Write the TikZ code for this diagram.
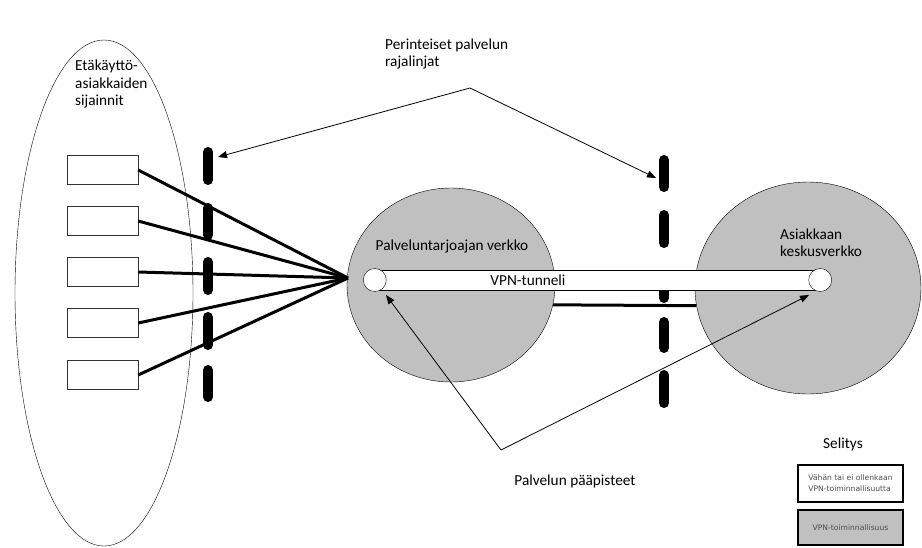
\documentclass[tikz,border=0pt]{standalone}
\usepackage{fontspec}
\setmainfont{Carlito}
\newfontfamily\pienifont{DejaVu Sans}
\usetikzlibrary{arrows.meta, shapes, positioning}
\definecolor{verkko}{RGB}{192,192,192}

\begin{document}
\begin{tikzpicture}[x=1pt, y=-1pt, font=\fontsize{15.3}{17.5}\selectfont,
    teksti/.style={inner sep=0pt, align=left},
    laatikko/.style={draw=black!80, fill=white, minimum width=71pt, minimum height=29pt, inner sep=0pt},
    yhteys/.style={line width=3pt},
    raja/.style={line width=10pt, line cap=round},
    nuoli/.style={-{Triangle[length=9pt,width=7pt]}, line width=0.8pt},
    pyora/.style={draw, ellipse, fill=verkko, inner sep=0pt},
    paa/.style={draw, circle, fill=white, minimum size=23pt, inner sep=0pt},
    selite/.style={draw, line width=1.5pt, minimum width=105pt, inner sep=3pt, align=left, text=black!70, font=\pienifont\fontsize{7.6}{11}\selectfont}]
  \useasboundingbox (0,0) rectangle (922,547);

  \node[draw, ellipse, minimum width=178pt, minimum height=506pt, inner sep=0pt] (alue) at (104,293) {};
  \node[teksti, anchor=west] (alueteksti) at (75,84) {Etäkäyttö-\\asiakkaiden\\sijainnit};

  \node[pyora, minimum width=208pt, minimum height=194pt] (pv) at (451,285) {};
  \node[pyora, minimum width=226pt, minimum height=212pt] (ak) at (808,288) {};

  \foreach \a/\b in {152/180,208/235,262/290,317/345,370/397}
    \draw[raja] (208,\a) -- (208,\b);
  \foreach \a/\b in {160/187,215/243,279/298,322/348,375/403}
    \draw[raja] (664,\a) -- (664,\b);

  \coordinate (hub) at (348,278);
  \foreach \n/\y in {1/170,2/221,3/272,4/323,5/375}{
    \node[laatikko] (b\n) at (102.5,\y) {};
    \draw[yhteys] (b\n.east) -- (hub);
  };
  \draw[yhteys] (pv.-11.7) -- (ak.189.2);

  \node[draw, fill=white, minimum width=445pt, minimum height=20pt, inner sep=0pt] (tunneli) at (597.5,280) {};
  \node[paa] (p1) at (tunneli.west) {};
  \node[paa] (p2) at (tunneli.east) {};
  \node (vpn) at (528,280) {VPN-tunneli};

  \node (pvteksti) at (452,246) {Palveluntarjoajan verkko};
  \node[teksti, anchor=west] (akteksti) at (780,242.5) {Asiakkaan\\keskusverkko};

  \node[teksti, anchor=west] (rajateksti) at (385,54) {Perinteiset palvelun\\rajalinjat};
  \coordinate (k1) at (470,88);
  \coordinate (r1) at (218,157);
  \coordinate (r2) at (656,178);
  \draw[nuoli] (k1) -- (r1);
  \draw[nuoli] (k1) -- (r2);

  \node (paateksti) at (575,481) {Palvelun pääpisteet};
  \coordinate (k2) at (501,450);
  \coordinate (s1) at (386,295);
  \coordinate (s2) at (809,295);
  \draw[nuoli] (k2) -- (s1);
  \draw[nuoli] (k2) -- (s2);

  \node[teksti, anchor=west] (selitys) at (823,444) {Selitys};
  \node[selite, minimum height=37pt, fill=white] (sel1) at (850.5,483.5) {Vähän tai ei ollenkaan\\VPN-toiminnallisuutta};
  \node[selite, minimum height=35pt, fill=verkko] (sel2) at (850.5,527.5) {VPN-toiminnallisuus};
\end{tikzpicture}
\end{document}
